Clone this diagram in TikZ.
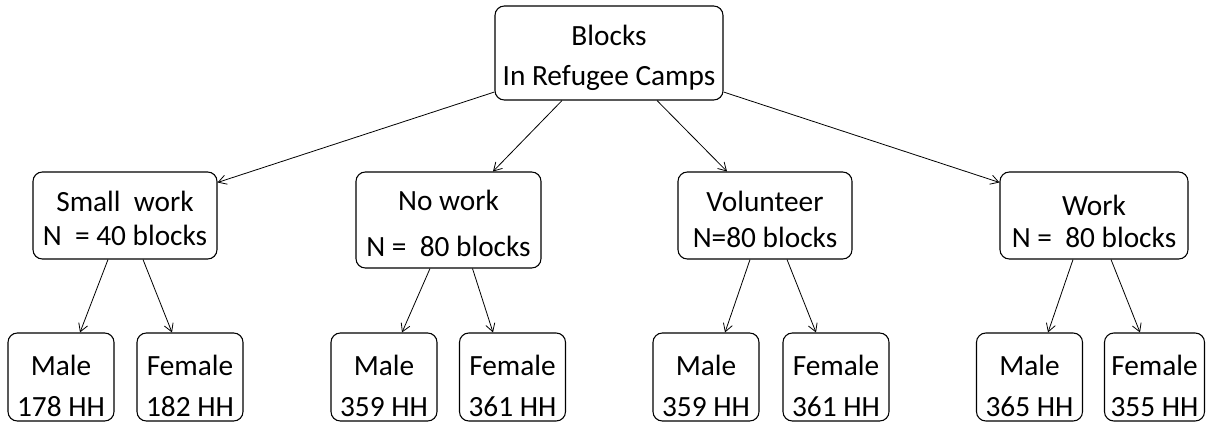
\documentclass[tikz,border=0pt]{standalone}
\usepackage{fontspec}
\setmainfont{Carlito}
\usetikzlibrary{arrows.meta,calc,positioning}
\newcommand{\lft}[1]{\rule{0pt}{#1}}
\tikzset{
    %Define standard arrow tip
    >={Straight Barb[length=6pt,width=7pt]},
    %Define style for boxes
    box/.style={
           rectangle,
           rounded corners=7pt,
           draw=black, line width=0.8pt,
           align=center,
           inner sep=0pt},
    rootbox/.style={
           box,
           minimum width=171pt,
           minimum height=70.5pt,
           font=\fontsize{22}{30}\selectfont},
    groupbox/.style={
           box,
           minimum height=65.25pt},
    leafbox/.style={
           box,
           minimum width=79.5pt,
           minimum height=66pt,
           font=\fontsize{22}{31}\selectfont},
    % Define arrow style
    pil/.style={
           ->,
           line width=0.6pt}
}
\begin{document}
\begin{tikzpicture}[x=0.75pt,y=-0.75pt]
\useasboundingbox (0,0) rectangle (1212,425);
 %nodes
\node[rootbox] (root) at (609,53) {\lft{22.5pt}Blocks\\In Refugee Camps};
\node[groupbox, minimum width=138pt, font=\fontsize{22}{25.5}\selectfont] (small) at (125,215.5) {\lft{20pt}Small~ work\\N~ = 40 blocks};
\node[groupbox, minimum width=138.75pt, minimum height=72pt, font=\fontsize{22}{34.5}\selectfont] (nowork) at (448.5,220) {\lft{21pt}No work\\N =~ 80 blocks};
\node[groupbox, minimum width=130.5pt, font=\fontsize{22}{27}\selectfont] (vol) at (765,215.5) {\lft{21pt}Volunteer\\N=80 blocks};
\node[groupbox, minimum width=141pt, font=\fontsize{22}{24}\selectfont] (work) at (1094,215.5) {\lft{24pt}Work\\N =~ 80 blocks};
\node[leafbox] (m1) at (61,377) {\lft{28.5pt}Male\\178 HH};
\node[leafbox] (f1) at (190,377) {\lft{28.5pt}Female\\182 HH};
\node[leafbox] (m2) at (384,377) {\lft{28.5pt}Male\\359 HH};
\node[leafbox] (f2) at (512.5,377) {\lft{28.5pt}Female\\361 HH};
\node[leafbox] (m3) at (706,377) {\lft{28.5pt}Male\\359 HH};
\node[leafbox] (f3) at (836,377) {\lft{28.5pt}Female\\361 HH};
\node[leafbox] (m4) at (1029.5,377) {\lft{28.5pt}Male\\365 HH};
\node[leafbox, minimum width=75pt] (f4) at (1154.5,377) {\lft{28.5pt}Female\\355 HH};
 %edges
\draw[pil] ($(root.west)+(0,39)$) -- ($(small.north east)+(0,11)$);
\draw[pil] ($(root.south)+(-47,0)$) -- ($(nowork.north)+(44.5,0)$);
\draw[pil] ($(root.south)+(48,0)$) -- ($(vol.north)+(-38,0)$);
\draw[pil] ($(root.east)+(0,39)$) -- ($(work.north west)+(0,11)$);
\draw[pil] ($(small.south)+(-17,0)$) -- ($(m1.north)+(19,0)$);
\draw[pil] ($(small.south)+(18,0)$) -- ($(f1.north)+(-18,0)$);
\draw[pil] ($(nowork.south)+(-18.5,0)$) -- ($(m2.north)+(18,0)$);
\draw[pil] ($(nowork.south)+(24,0)$) -- ($(f2.north)+(-19.5,0)$);
\draw[pil] ($(vol.south)+(-15,0)$) -- ($(m3.north)+(19,0)$);
\draw[pil] ($(vol.south)+(22,0)$) -- ($(f3.north)+(-20,0)$);
\draw[pil] ($(work.south)+(-21,0)$) -- ($(m4.north)+(18.5,0)$);
\draw[pil] ($(work.south)+(17,0)$) -- ($(f4.north)+(-14.5,0)$);
\end{tikzpicture}
\end{document}
